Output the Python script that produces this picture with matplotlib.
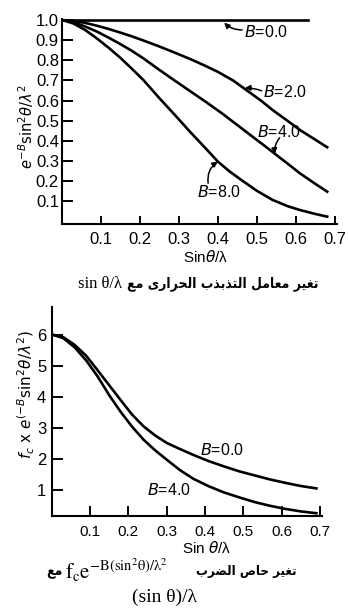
import matplotlib
matplotlib.use("Agg")
import matplotlib.pyplot as plt

plt.rcParams['font.family'] = ['Liberation Sans', 'DejaVu Sans']

# --- debye-waller factor curves: exp(-B sin^2(theta)/lambda^2) ---
s_B2 = [0.0, 0.03, 0.06, 0.09, 0.12, 0.15, 0.18, 0.21, 0.25, 0.29, 0.33, 0.37, 0.40, 0.44,
        0.47, 0.51, 0.54, 0.58, 0.61, 0.65, 0.68]
dw_B2 = [1.0, 0.995, 0.985, 0.971, 0.955, 0.937, 0.918, 0.897, 0.868, 0.837, 0.805, 0.770,
         0.742, 0.698, 0.656, 0.600, 0.553, 0.497, 0.454, 0.405, 0.368]
s_B4 = [0.0, 0.03, 0.06, 0.09, 0.12, 0.15, 0.18, 0.21, 0.25, 0.29, 0.33, 0.37, 0.41, 0.45,
        0.50, 0.53, 0.555, 0.58, 0.61, 0.65, 0.68]
dw_B4 = [1.0, 0.99, 0.967, 0.942, 0.912, 0.880, 0.846, 0.808, 0.752, 0.698, 0.645, 0.592,
         0.537, 0.478, 0.404, 0.36, 0.322, 0.285, 0.239, 0.186, 0.148]
s_B8 = [0.0, 0.03, 0.06, 0.09, 0.12, 0.15, 0.18, 0.21, 0.25, 0.29, 0.33, 0.37, 0.40, 0.43,
        0.46, 0.50, 0.54, 0.58, 0.61, 0.65, 0.68]
dw_B8 = [1.0, 0.982, 0.950, 0.908, 0.862, 0.812, 0.757, 0.700, 0.612, 0.528, 0.442, 0.36,
         0.297, 0.248, 0.206, 0.152, 0.107, 0.075, 0.057, 0.037, 0.024]
s_B0 = [0.0, 0.63]
dw_B0 = [1.0, 1.0]

# --- carbon scattering factor times temperature factor ---
s_fc = [0.005, 0.03, 0.06, 0.09, 0.12, 0.15, 0.18, 0.21, 0.24, 0.27, 0.30, 0.335, 0.37,
        0.41, 0.45, 0.49, 0.53, 0.57, 0.61, 0.65, 0.691]
fc_B0 = [6.0, 5.93, 5.68, 5.33, 4.86, 4.38, 3.90, 3.43, 3.05, 2.76, 2.52, 2.32, 2.13,
         1.93, 1.76, 1.60, 1.47, 1.34, 1.23, 1.13, 1.05]
fc_B4 = [6.0, 5.9, 5.6, 5.18, 4.66, 4.06, 3.52, 3.04, 2.62, 2.28, 1.98, 1.64, 1.36,
         1.12, 0.92, 0.76, 0.61, 0.49, 0.39, 0.31, 0.25]

top_yticks = [0.1, 0.2, 0.3, 0.4, 0.5, 0.6, 0.7, 0.8, 0.9, 1.0]
bot_yticks = [1, 2, 3, 4, 5, 6]
xticks = [0.1, 0.2, 0.3, 0.4, 0.5, 0.6, 0.7]

# contextual forms: isolated, final, initial, medial
AR_FORMS = {
    'ا': ('\ufe8d', '\ufe8e', None, None),
    'ب': ('\ufe8f', '\ufe90', '\ufe91', '\ufe92'),
    'ت': ('\ufe95', '\ufe96', '\ufe97', '\ufe98'),
    'ح': ('\ufea1', '\ufea2', '\ufea3', '\ufea4'),
    'ذ': ('\ufeab', '\ufeac', None, None),
    'ر': ('\ufead', '\ufeae', None, None),
    'ص': ('\ufeb9', '\ufeba', '\ufebb', '\ufebc'),
    'ض': ('\ufebd', '\ufebe', '\ufebf', '\ufec0'),
    'ع': ('\ufec9', '\ufeca', '\ufecb', '\ufecc'),
    'غ': ('\ufecd', '\ufece', '\ufecf', '\ufed0'),
    'ل': ('\ufedd', '\ufede', '\ufedf', '\ufee0'),
    'م': ('\ufee1', '\ufee2', '\ufee3', '\ufee4'),
    'ى': ('\ufeef', '\ufef0', None, None),
    'ي': ('\ufef1', '\ufef2', '\ufef3', '\ufef4'),
}


def shape_ar(text):
    # join letters and flip to visual (left-to-right) order
    out = []
    for i, ch in enumerate(text):
        forms = AR_FORMS.get(ch)
        if forms is None:
            out.append(ch)
            continue
        prev = text[i - 1] if i > 0 else ''
        nxt = text[i + 1] if i + 1 < len(text) else ''
        join_prev = prev in AR_FORMS and AR_FORMS[prev][2] is not None
        join_next = nxt in AR_FORMS and forms[2] is not None
        if join_prev and join_next:
            out.append(forms[3])
        elif join_prev:
            out.append(forms[1])
        elif join_next:
            out.append(forms[2])
        else:
            out.append(forms[0])
    return ''.join(reversed(out))


def style_axes(ax, ylen, xlen):
    for side in ('top', 'right'):
        ax.spines[side].set_visible(False)
    for side in ('left', 'bottom'):
        ax.spines[side].set_linewidth(1.5)
    ax.tick_params(axis='both', direction='in', width=1.4, labelsize=12)
    ax.tick_params(axis='y', length=ylen)
    ax.tick_params(axis='x', length=xlen, pad=6)


fig = plt.figure(figsize=(3.48, 6.12), dpi=100)
ar_font = dict(family='DejaVu Sans', weight='bold', stretch='condensed')

### upper chart ###
ax1 = fig.add_axes([0.1773, 0.6348, 0.791, 0.3344])
lw = 1.9
ax1.plot(s_B0, dw_B0, color='k', lw=lw, clip_on=False)
ax1.plot(s_B2, dw_B2, color='k', lw=lw)
ax1.plot(s_B4, dw_B4, color='k', lw=lw)
ax1.plot(s_B8, dw_B8, color='k', lw=lw)
ax1.set_xlim(0, 0.705)
ax1.set_ylim(-0.01, 1.005)
ax1.set_xticks(xticks)
ax1.set_xticklabels(['%.1f' % v for v in xticks])
ax1.set_yticks(top_yticks)
ax1.set_yticklabels(['%.1f' % v for v in top_yticks])
style_axes(ax1, 8, 6)
ax1.tick_params(axis='y', pad=2)

arrow = dict(arrowstyle='-|>', color='k', lw=1.1, shrinkA=0, shrinkB=0, mutation_scale=8)
ax1.text(0.466, 0.94, r'$B$=0.0', fontsize=11.5, va='center', ha='left')
ax1.annotate('', xy=(0.416, 0.986), xytext=(0.462, 0.95),
             arrowprops=dict(arrow, connectionstyle='arc3,rad=-0.2'))
ax1.text(0.515, 0.644, r'$B$=2.0', fontsize=11.5, va='center', ha='left')
ax1.annotate('', xy=(0.469, 0.662), xytext=(0.512, 0.648),
             arrowprops=dict(arrow, connectionstyle='arc3,rad=0.1'))
ax1.text(0.499, 0.446, r'$B$=4.0', fontsize=11.5, va='center', ha='left')
ax1.annotate('', xy=(0.546, 0.335), xytext=(0.558, 0.415),
             arrowprops=dict(arrow, connectionstyle='arc3,rad=0.2'))
ax1.text(0.346, 0.148, r'$B$=8.0', fontsize=11.5, va='center', ha='left')
ax1.annotate('', xy=(0.40, 0.297), xytext=(0.375, 0.19),
             arrowprops=dict(arrow, connectionstyle='arc3,rad=-0.3'))

fig.text(0.592, 0.580, r'Sin$\theta$/λ', fontsize=11, ha='center', va='center')
fig.text(0.075, 0.793, r'$e^{-B}\mathsf{sin}^2\theta/\lambda^2$', fontsize=10.5,
         rotation=90, ha='center', va='center')

fig.text(0.350, 0.536, 'sin θ/λ', family='Liberation Serif', fontsize=12,
         ha='right', va='center')
fig.text(0.364, 0.536, shape_ar('تغير معامل التذبذب الحرارى مع'), fontsize=10,
         ha='left', va='center', **ar_font)

### lower chart ###
ax2 = fig.add_axes([0.1486, 0.1563, 0.776, 0.3419])
ax2.plot(s_fc, fc_B0, color='k', lw=lw)
ax2.plot(s_fc, fc_B4, color='k', lw=lw)
ax2.set_xlim(0, 0.705)
ax2.set_ylim(0.15, 6.9)
ax2.set_xticks(xticks)
ax2.set_xticklabels(['%.1f' % v for v in xticks])
ax2.set_yticks(bot_yticks)
style_axes(ax2, 8, 7)
ax2.tick_params(axis='y', pad=4)
ax2.tick_params(axis='x', labelsize=11)

ax2.text(0.387, 2.29, r'$B$=0.0', fontsize=11.5, va='center', ha='left')
ax2.text(0.248, 1.0, r'$B$=4.0', fontsize=11.5, va='center', ha='left')

fig.text(0.595, 0.105, r'Sin $\theta$/λ', fontsize=11, ha='center', va='center')
fig.text(0.075, 0.356, r'$f_c\ \mathsf{x}\ e^{(-B}\mathsf{sin}^2\theta/\lambda^2\mathsf{)}$',
         fontsize=11, rotation=90, ha='center', va='center')

fig.text(0.181, 0.066, shape_ar('مع'), fontsize=10, ha='right', va='center', **ar_font)
fig.text(0.187, 0.068, r'$\mathrm{f_ce^{-B(sin^2θ)/λ^2}}$', math_fontfamily='stix',
         fontsize=15, ha='left', va='center')
fig.text(0.563, 0.066, shape_ar('تغير حاص الضرب'), fontsize=9.5, ha='left', va='center',
         **ar_font)
fig.text(0.474, 0.024, '(sin θ)/λ', family='Liberation Serif', fontsize=14,
         ha='center', va='center')

fig.savefig('out.png', dpi=100)
